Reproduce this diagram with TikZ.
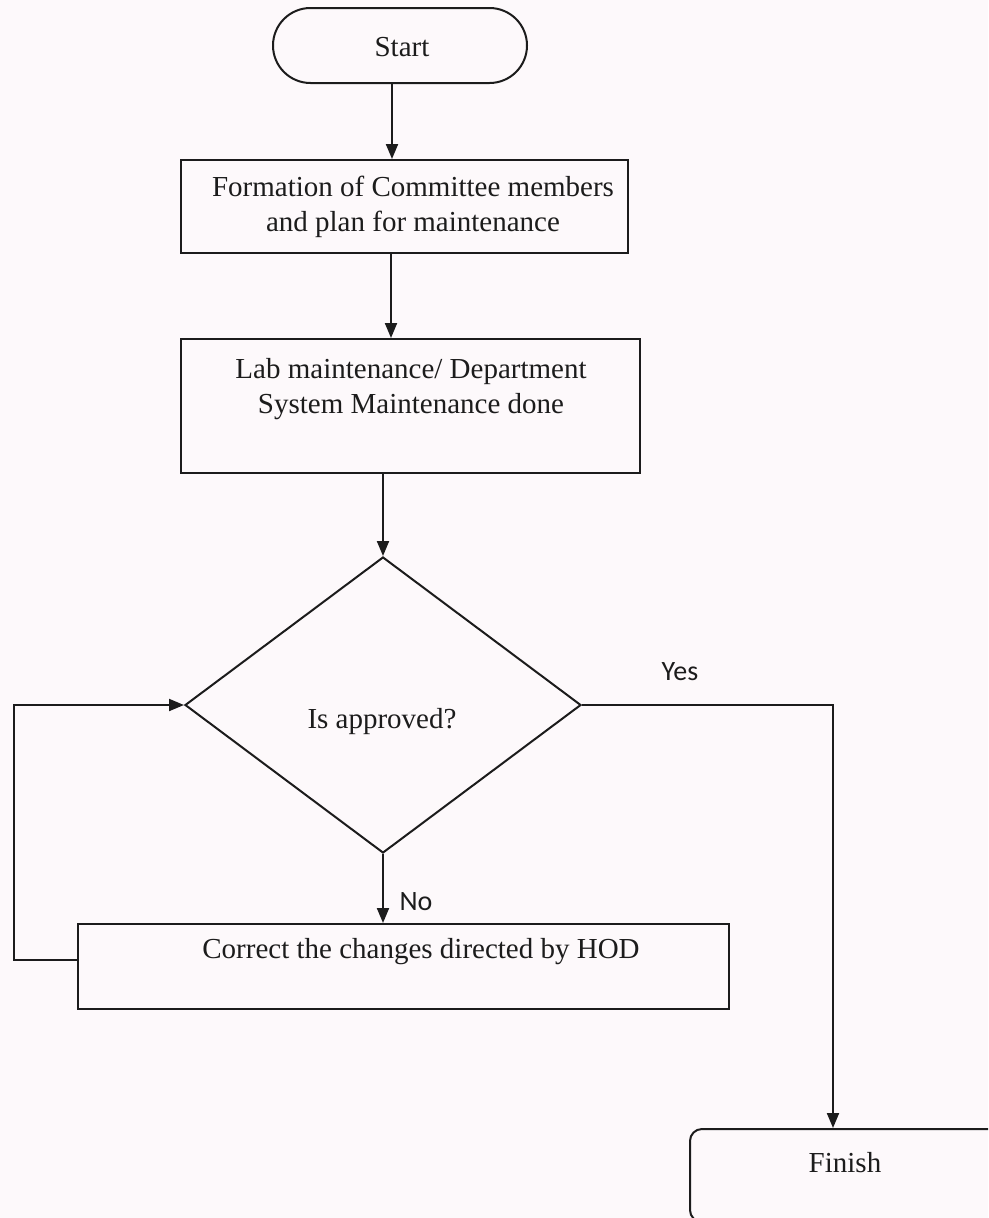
\documentclass[tikz,border=0pt]{standalone}
\usepackage{fontspec}
\setmainfont{Liberation Serif}
\newfontfamily\calib{Carlito}
\usetikzlibrary{arrows.meta,shapes.misc,shapes.geometric,calc}
\definecolor{bgc}{HTML}{FDF9FB}
\definecolor{ink}{HTML}{1C1C1C}
\tikzset{
  box/.style={draw=ink,line width=2pt,rectangle,inner sep=0pt},
  txt/.style={text=ink,font=\fontsize{29}{35.5}\selectfont,align=center,inner sep=0pt},
  lbl/.style={text=ink,font=\calib\fontsize{28}{32}\selectfont,inner sep=0pt},
  arr/.style={draw=ink,line width=2pt,-{Triangle[length=15pt,width=12pt]}},
  ln/.style={draw=ink,line width=2pt}
}
\begin{document}
\begin{tikzpicture}[x=1pt,y=-1pt]
\useasboundingbox (0,0) rectangle (988,1218);
\fill[bgc] (0,0) rectangle (988,1218);
\clip (0,0) rectangle (988,1218);
% shapes
\node[box,rounded rectangle,minimum width=254pt,minimum height=75pt] (start) at (400,45.5) {};
\node[txt] (startt) at (402,47) {Start};
\node[box,minimum width=447pt,minimum height=93pt] (b1) at (404.5,206.5) {};
\node[txt] (b1t) at (413,207) {Formation of Committee members\\and plan for maintenance};
\node[box,minimum width=459pt,minimum height=134pt] (b2) at (410.5,406) {};
\node[txt] (b2t) at (411,389) {Lab maintenance/ Department\\System Maintenance done};
\node[box,diamond,minimum width=396pt,minimum height=296pt] (dia) at (383,705) {};
\node[txt] (diat) at (382,722) {Is approved?};
\node[box,minimum width=651pt,minimum height=85pt] (b3) at (403.5,966.5) {};
\node[txt] (b3t) at (421,952) {Correct the changes directed by HOD};
\node[box,rounded corners=12pt,minimum width=310pt,minimum height=93pt] (fin) at (845,1175.5) {};
\node[txt] (fint) at (845,1163) {Finish};
% labels
\node[lbl] (yes) at (680,672) {Yes};
\node[lbl] (no) at (416,902) {No};
% connectors
\draw[arr] ($(start.south)+(-8,0)$) -- ($(start.south |- b1.north)+(-8,0)$);
\draw[arr] ($(b1.south)+(-13.5,0)$) -- ($(b1.south |- b2.north)+(-13.5,0)$);
\draw[arr] (dia.north |- b2.south) -- (dia.north);
\draw[arr] (dia.south) -- (dia.south |- b3.north);
\coordinate (lp) at (14,960);
\draw[arr] ([yshift=6.5pt]b3.west) -- (lp) |- (dia.west);
\draw[arr] (dia.east) -| ([xshift=-12pt]fin.north);
\end{tikzpicture}
\end{document}
